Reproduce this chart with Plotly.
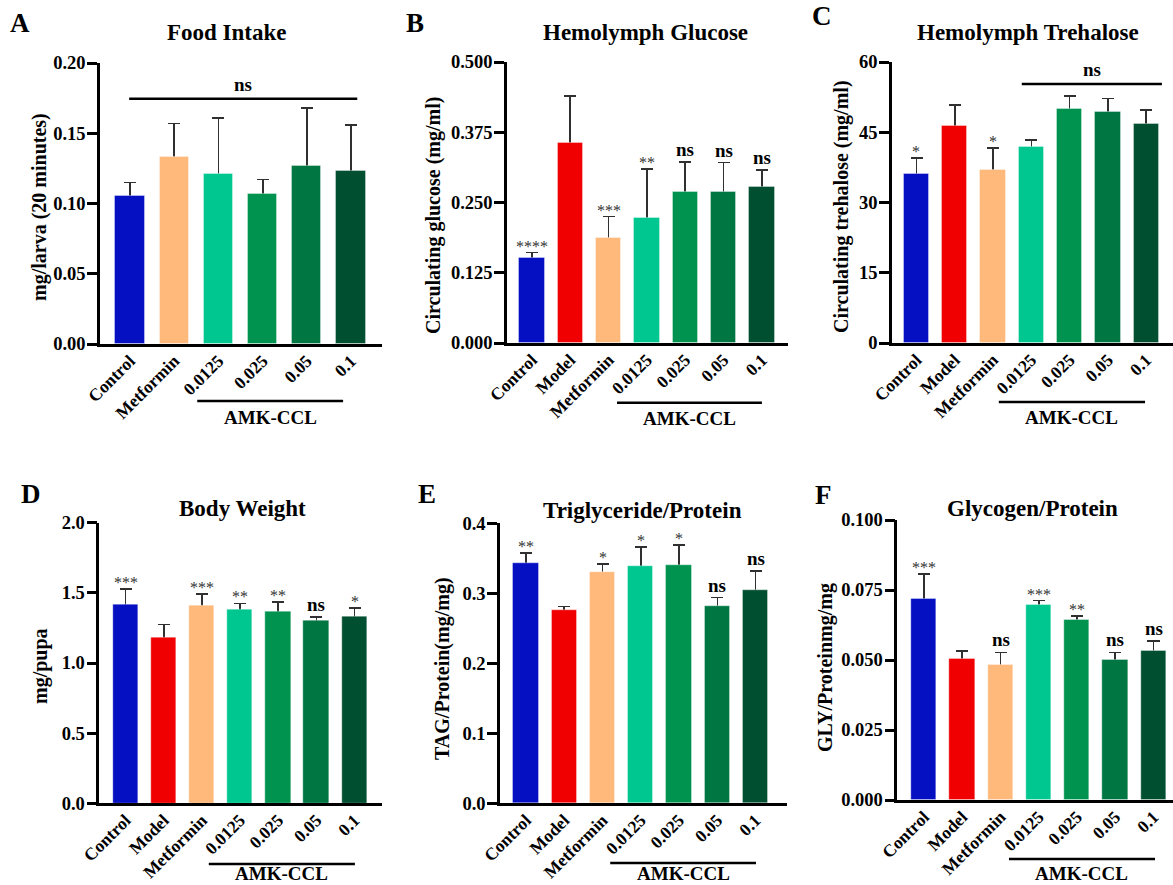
import plotly.graph_objects as go

W, H = 1173, 885
FONT = "Liberation Serif, Times New Roman, serif"

# ---------------- data ----------------
groups7 = ["Control", "Model", "Metformin", "0.0125", "0.025", "0.05", "0.1"]
groupsA = ["Control", "Metformin", "0.0125", "0.025", "0.05", "0.1"]
group_colors = {"Control": "#0510C2", "Model": "#F00000", "Metformin": "#FFB97B",
                "0.0125": "#00C690", "0.025": "#009350", "0.05": "#007743", "0.1": "#004F31"}

food_mean = [0.105, 0.133, 0.121, 0.107, 0.127, 0.123]
food_err = [0.010, 0.024, 0.040, 0.010, 0.041, 0.033]
food_sig = ["", "", "", "", "", ""]

glucose_mean = [0.151, 0.355, 0.187, 0.223, 0.268, 0.268, 0.277]
glucose_err = [0.010, 0.085, 0.038, 0.087, 0.054, 0.053, 0.031]
glucose_sig = ["****", "", "***", "**", "ns", "ns", "ns"]

trehalose_mean = [36.1, 46.3, 36.9, 41.9, 50.0, 49.3, 46.8]
trehalose_err = [3.4, 4.5, 4.7, 1.5, 2.7, 2.9, 3.0]
trehalose_sig = ["*", "", "*", "", "", "", ""]

weight_mean = [1.416, 1.183, 1.411, 1.382, 1.363, 1.302, 1.328]
weight_err = [0.111, 0.092, 0.083, 0.043, 0.071, 0.028, 0.064]
weight_sig = ["***", "", "***", "**", "**", "ns", "*"]

tag_mean = [0.343, 0.276, 0.330, 0.338, 0.340, 0.282, 0.305]
tag_err = [0.015, 0.005, 0.012, 0.028, 0.029, 0.012, 0.027]
tag_sig = ["**", "", "*", "*", "*", "ns", "ns"]

gly_mean = [0.0717, 0.0502, 0.0481, 0.0696, 0.0643, 0.0499, 0.0532]
gly_err = [0.0089, 0.0029, 0.0046, 0.0016, 0.0014, 0.0028, 0.0036]
gly_sig = ["***", "", "ns", "***", "**", "ns", "ns"]

panels = [
    dict(letter="A", title="Food Intake", ytitle="mg/larva (20 minutes)",
         cats=groupsA, mean=food_mean, err=food_err, sig=food_sig,
         yticks=[0, 0.05, 0.10, 0.15, 0.20], fmt=".2f",
         bracket=(-0.02, 5.14, 0.1746),
         geo=dict(l=100, r=382, y0=344, y1=63, xr=[-0.68, 5.70], t=(227, 33), L=(20, 23),
                  yt=(40, 207), amk=(1.52, 4.82, 401, 417))),
    dict(letter="B", title="Hemolymph Glucose", ytitle="Circulating glucose (mg/ml)",
         cats=groups7, mean=glucose_mean, err=glucose_err, sig=glucose_sig,
         yticks=[0, 0.125, 0.25, 0.375, 0.5], fmt=".3f", bracket=None,
         geo=dict(l=507, r=788, y0=343, y1=62, xr=[-0.65, 6.68], t=(645, 32), L=(415, 23),
                  yt=(433, 216), amk=(2.22, 6.0, 402.7, 418.5))),
    dict(letter="C", title="Hemolymph Trehalose", ytitle="Circulating trehalose (mg/ml)",
         cats=groups7, mean=trehalose_mean, err=trehalose_err, sig=trehalose_sig,
         yticks=[0, 15, 30, 45, 60], fmt="d", bracket=(2.75, 6.41, 55.3),
         geo=dict(l=892, r=1173, y0=343, y1=62, xr=[-0.64, 6.70], t=(1028, 32), L=(822, 16),
                  yt=(842, 207), amk=(2.15, 5.97, 402, 418))),
    dict(letter="D", title="Body Weight", ytitle="mg/pupa",
         cats=groups7, mean=weight_mean, err=weight_err, sig=weight_sig,
         yticks=[0, 0.5, 1.0, 1.5, 2.0], fmt=".1f", bracket=None,
         geo=dict(l=99.3, r=382, y0=803.3, y1=522.7, xr=[-0.69, 6.72], t=(242, 509), L=(31, 494),
                  yt=(40, 666), amk=(2.18, 6.01, 864, 873))),
    dict(letter="E", title="Triglyceride/Protein", ytitle="TAG/Protein(mg/mg)",
         cats=groups7, mean=tag_mean, err=tag_err, sig=tag_sig,
         yticks=[0, 0.1, 0.2, 0.3, 0.4], fmt=".1f", bracket=None,
         geo=dict(l=500, r=787, y0=803.3, y1=523.3, xr=[-0.68, 6.82], t=(642, 510), L=(427, 494),
                  yt=(442, 669), amk=(2.2, 6.01, 863, 873))),
    dict(letter="F", title="Glycogen/Protein", ytitle="GLY/Proteinmg/mg",
         cats=groups7, mean=gly_mean, err=gly_err, sig=gly_sig,
         yticks=[0, 0.025, 0.05, 0.075, 0.1], fmt=".3f", bracket=None,
         geo=dict(l=897.3, r=1173, y0=800, y1=520, xr=[-0.70, 6.51], t=(1032, 509), L=(823, 495),
                  yt=(825, 668), amk=(2.22, 6.04, 859, 873))),
]


def px(x):
    return x / W


def py(y):
    return 1 - y / H


fig = go.Figure()
annotations = []
shapes = []
layout_axes = {}

for i, p in enumerate(panels):
    n = i + 1
    xa = "x" if n == 1 else f"x{n}"
    ya = "y" if n == 1 else f"y{n}"
    g = p["geo"]
    colors = [group_colors[c] for c in p["cats"]]
    # error bars (drawn first, lower half hidden by the visible bar trace)
    fig.add_trace(go.Bar(
        x=p["cats"], y=p["mean"], width=0.66, xaxis=xa, yaxis=ya,
        marker=dict(color="rgba(0,0,0,0)", line=dict(width=0)),
        error_y=dict(type="data", array=p["err"], symmetric=True,
                     color="#303030", thickness=1.7, width=6),
        showlegend=False, hoverinfo="skip"))
    fig.add_trace(go.Bar(
        x=p["cats"], y=p["mean"], width=0.66, xaxis=xa, yaxis=ya,
        marker=dict(color=colors, line=dict(width=1, color="rgba(255,255,255,0.35)")),
        showlegend=False))

    top = p["yticks"][-1]
    if p["fmt"] == "d":
        ticktext = [f"{int(v)}" for v in p["yticks"]]
    else:
        ticktext = [format(v, p["fmt"]) for v in p["yticks"]]
    key_x = "xaxis" if n == 1 else f"xaxis{n}"
    key_y = "yaxis" if n == 1 else f"yaxis{n}"
    layout_axes[key_x] = dict(
        domain=[px(g["l"]), px(g["r"])], anchor=ya, type="category",
        categoryorder="array", categoryarray=p["cats"], range=g["xr"],
        showline=True, linecolor="black", linewidth=2.6, ticks="", automargin=False,
        tickangle=-45, tickfont=dict(family=FONT, size=17.5, color="black", weight="bold"),
        ticklabelstandoff=-3, showgrid=False, zeroline=False, fixedrange=True)
    layout_axes[key_y] = dict(
        domain=[py(g["y0"]), py(g["y1"])], anchor=xa, range=[0, top],
        tickvals=p["yticks"], ticktext=ticktext, automargin=False,
        showline=True, linecolor="black", linewidth=2.6, ticks="outside",
        ticklen=10, tickwidth=2.6, tickcolor="black", ticklabelstandoff=-2,
        tickfont=dict(family=FONT, size=18.5, color="black", weight="bold"),
        showgrid=False, zeroline=False, fixedrange=True)

    # panel title, letter, y title
    annotations.append(dict(text=f"<b>{p['title']}</b>", x=px(g["t"][0]), y=py(g["t"][1]),
                            xref="paper", yref="paper", showarrow=False,
                            xanchor="center", yanchor="middle",
                            font=dict(family=FONT, size=23, color="black")))
    annotations.append(dict(text=f"<b>{p['letter']}</b>", x=px(g["L"][0]), y=py(g["L"][1]),
                            xref="paper", yref="paper", showarrow=False,
                            xanchor="center", yanchor="middle",
                            font=dict(family=FONT, size=27, color="black")))
    annotations.append(dict(text=f"<b>{p['ytitle']}</b>", x=px(g["yt"][0]), y=py(g["yt"][1]),
                            xref="paper", yref="paper", showarrow=False, textangle=-90,
                            xanchor="center", yanchor="middle",
                            font=dict(family=FONT, size=20, color="black")))

    # significance marks (x given as category index)
    for k, (m, e, s) in enumerate(zip(p["mean"], p["err"], p["sig"])):
        if not s:
            continue
        if s == "ns":
            annotations.append(dict(text="<b>ns</b>", x=k, y=m + e, xref=xa, yref=ya,
                                    showarrow=False, xanchor="center", yanchor="bottom",
                                    yshift=0, font=dict(family=FONT, size=19, color="black")))
        else:
            annotations.append(dict(text=s, x=k, y=m + e, xref=xa, yref=ya,
                                    showarrow=False, xanchor="center", yanchor="bottom",
                                    yshift=-4, font=dict(family=FONT, size=16, color="#333333")))

    # ns bracket across groups
    if p["bracket"]:
        bx0, bx1, by = p["bracket"]
        shapes.append(dict(type="line", xref=xa, yref=ya, x0=bx0, x1=bx1, y0=by, y1=by,
                           line=dict(color="black", width=2.4)))
        annotations.append(dict(text="<b>ns</b>", x=(bx0 + bx1) / 2, y=by, xref=xa, yref=ya,
                                showarrow=False, xanchor="center", yanchor="bottom", yshift=2,
                                font=dict(family=FONT, size=19, color="black")))

    # AMK-CCL group line below the axis
    ax0, ax1, ly, ty = g["amk"]
    shapes.append(dict(type="line", xref=xa, yref="paper", x0=ax0, x1=ax1,
                       y0=py(ly), y1=py(ly), line=dict(color="black", width=2.4)))
    annotations.append(dict(text="<b>AMK-CCL</b>", x=(ax0 + ax1) / 2, y=py(ty),
                            xref=xa, yref="paper", showarrow=False,
                            xanchor="center", yanchor="middle",
                            font=dict(family=FONT, size=19, color="black")))

fig.update_layout(
    template="none",
    width=W, height=H, margin=dict(l=0, r=0, t=0, b=0, autoexpand=False),
    paper_bgcolor="white", plot_bgcolor="white",
    barmode="overlay", bargap=0,
    font=dict(family=FONT, color="black"),
    annotations=annotations, shapes=shapes, showlegend=False,
    **layout_axes)

fig.write_html("out.html", post_script="document.body.style.margin='0px';",
               config={"displayModeBar": False})
